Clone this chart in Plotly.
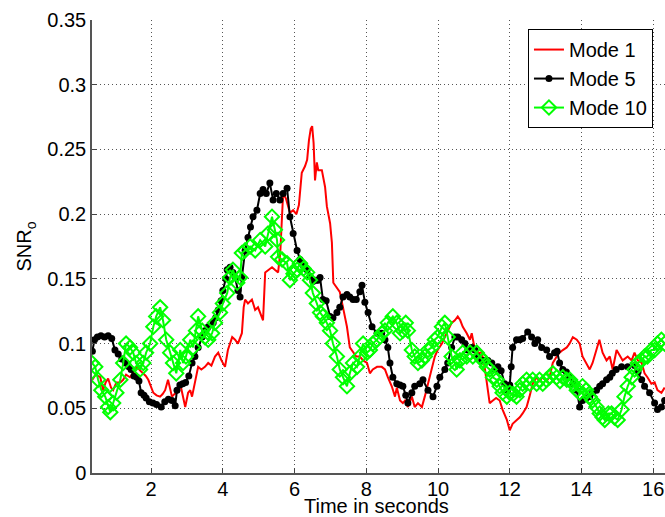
import plotly.graph_objects as go

# ---- Mode 1 (red line) ----
t_mode1 = [0.36,0.45,0.58,0.66,0.73,0.80,0.88,0.94,1.03,1.14,1.22,1.30,1.41,1.50,1.61,1.70,1.78,1.85,1.92,2.00,
           2.06,2.15,2.25,2.32,2.39,2.47,2.52,2.58,2.65,2.72,2.81,2.88,2.95,3.03,3.09,3.14,3.23,3.31,3.40,3.50,
           3.59,3.68,3.78,3.87,3.96,4.06,4.14,4.26,4.34,4.42,4.53,4.58,4.62,4.70,4.81,4.90,4.98,5.09,5.12,5.18,
           5.26,5.37,5.45,5.54,5.60,5.68,5.76,5.87,5.96,6.05,6.12,6.20,6.29,6.35,6.40,6.45,6.49,6.53,6.57,6.62,
           6.66,6.76,6.85,6.90,6.99,7.04,7.08,7.18,7.26,7.35,7.46,7.54,7.63,7.72,7.82,7.91,8.02,8.10,8.18,8.30,
           8.43,8.52,8.60,8.71,8.80,8.85,8.94,9.02,9.08,9.16,9.27,9.35,9.44,9.55,9.63,9.72,9.83,9.91,9.99,10.11,
           10.19,10.27,10.38,10.47,10.55,10.62,10.69,10.80,10.89,10.94,11.03,11.12,11.22,11.30,11.36,11.44,11.53,11.62,11.72,11.80,
           11.92,12.00,12.08,12.19,12.28,12.36,12.47,12.55,12.64,12.75,12.83,12.92,13.02,13.11,13.17,13.20,13.31,13.39,13.48,13.59,
           13.67,13.76,13.87,13.95,14.03,14.14,14.23,14.31,14.42,14.50,14.59,14.70,14.79,14.87,14.98,15.07,15.15,15.29,15.40,15.48,
           15.57,15.68,15.76,15.84,15.95,16.04,16.12,16.23,16.32]
snr_mode1 = [0.072,0.076,0.074,0.064,0.070,0.073,0.066,0.064,0.070,0.070,0.072,0.076,0.074,0.078,0.082,0.079,0.077,0.075,0.072,0.066,
             0.062,0.060,0.059,0.061,0.064,0.072,0.066,0.059,0.061,0.062,0.069,0.060,0.051,0.062,0.064,0.059,0.072,0.082,0.080,0.082,
             0.085,0.083,0.090,0.093,0.087,0.082,0.095,0.105,0.103,0.100,0.108,0.128,0.134,0.131,0.134,0.126,0.128,0.121,0.118,0.155,
             0.157,0.159,0.157,0.155,0.170,0.216,0.212,0.201,0.203,0.200,0.207,0.232,0.237,0.242,0.257,0.266,0.268,0.255,0.226,0.240,
             0.234,0.234,0.221,0.206,0.193,0.178,0.147,0.143,0.140,0.128,0.113,0.097,0.093,0.090,0.090,0.087,0.085,0.077,0.080,0.082,
             0.082,0.080,0.074,0.067,0.059,0.066,0.056,0.054,0.056,0.051,0.059,0.051,0.054,0.051,0.059,0.069,0.082,0.090,0.095,0.100,
             0.105,0.110,0.116,0.118,0.121,0.118,0.113,0.108,0.103,0.108,0.095,0.093,0.093,0.082,0.069,0.054,0.056,0.058,0.056,0.049,
             0.041,0.033,0.038,0.041,0.043,0.046,0.051,0.059,0.069,0.074,0.071,0.074,0.071,0.074,0.080,0.085,0.090,0.093,0.095,0.097,
             0.100,0.105,0.103,0.100,0.090,0.085,0.080,0.085,0.095,0.103,0.093,0.087,0.090,0.080,0.095,0.091,0.087,0.090,0.087,0.093,
             0.087,0.085,0.077,0.074,0.069,0.070,0.064,0.062,0.066]

# ---- Mode 5 (black line with dots) ----
t_mode5 = [0.36,0.42,0.50,0.60,0.70,0.80,0.90,0.99,1.08,1.18,1.28,1.38,1.44,1.52,1.60,1.66,1.72,1.80,1.86,1.95,
           2.05,2.15,2.28,2.38,2.48,2.58,2.67,2.72,2.80,2.88,2.96,3.05,3.14,3.22,3.31,3.42,3.50,3.59,3.73,3.80,
           3.87,3.95,4.00,4.08,4.12,4.20,4.28,4.34,4.42,4.48,4.53,4.62,4.70,4.77,4.84,4.95,5.04,5.12,5.21,5.31,
           5.40,5.49,5.59,5.68,5.79,5.87,5.96,6.07,6.15,6.25,6.35,6.43,6.51,6.60,6.65,6.71,6.79,6.88,6.99,7.07,
           7.18,7.26,7.35,7.46,7.54,7.63,7.72,7.82,7.88,7.96,8.05,8.16,8.30,8.43,8.52,8.60,8.66,8.74,8.85,8.94,
           9.02,9.10,9.16,9.27,9.35,9.49,9.58,9.72,9.86,9.97,10.05,10.19,10.27,10.38,10.47,10.55,10.66,10.75,10.83,10.94,
           11.03,11.11,11.22,11.30,11.39,11.50,11.58,11.67,11.76,11.86,11.94,12.00,12.04,12.08,12.19,12.28,12.36,12.50,12.61,12.70,
           12.78,12.89,13.03,13.11,13.25,13.32,13.39,13.48,13.58,13.67,13.76,13.87,13.95,14.03,14.13,14.23,14.31,14.42,14.51,14.59,
           14.70,14.79,14.86,14.97,15.12,15.29,15.48,15.58,15.68,15.76,15.90,16.04,16.12,16.23,16.32]
snr_mode5 = [0.094,0.103,0.105,0.106,0.105,0.106,0.104,0.095,0.092,0.088,0.085,0.082,0.080,0.075,0.074,0.071,0.062,0.060,0.058,0.055,
             0.054,0.053,0.051,0.055,0.057,0.056,0.052,0.064,0.068,0.069,0.070,0.075,0.085,0.090,0.097,0.105,0.110,0.113,0.116,0.120,
             0.126,0.133,0.141,0.150,0.157,0.159,0.155,0.151,0.141,0.136,0.151,0.172,0.182,0.190,0.198,0.203,0.216,0.219,0.216,0.224,
             0.211,0.216,0.211,0.216,0.220,0.198,0.185,0.172,0.165,0.160,0.157,0.152,0.148,0.149,0.149,0.151,0.134,0.133,0.121,0.120,
             0.124,0.128,0.136,0.138,0.136,0.134,0.134,0.140,0.145,0.132,0.124,0.113,0.108,0.108,0.103,0.097,0.085,0.074,0.069,0.068,
             0.067,0.060,0.054,0.062,0.067,0.069,0.072,0.064,0.059,0.067,0.074,0.080,0.085,0.097,0.105,0.105,0.103,0.100,0.095,0.097,
             0.095,0.090,0.087,0.087,0.087,0.085,0.080,0.082,0.079,0.069,0.064,0.068,0.082,0.097,0.103,0.103,0.104,0.109,0.105,0.100,
             0.103,0.097,0.095,0.090,0.093,0.094,0.085,0.080,0.078,0.074,0.069,0.064,0.051,0.056,0.058,0.059,0.062,0.064,0.067,0.069,
             0.072,0.074,0.077,0.080,0.082,0.082,0.083,0.078,0.072,0.067,0.062,0.054,0.049,0.051,0.056]

# ---- Mode 10 (green line with open diamonds) ----
t_mode10 = [0.35,0.44,0.52,0.61,0.72,0.80,0.86,0.94,1.03,1.14,1.22,1.30,1.41,1.50,1.58,1.69,1.78,1.86,1.97,2.06,
            2.14,2.25,2.33,2.42,2.53,2.61,2.70,2.81,2.89,2.97,3.09,3.17,3.25,3.31,3.42,3.50,3.59,3.70,3.78,3.92,
            4.00,4.12,4.20,4.28,4.40,4.48,4.53,4.62,4.76,4.90,5.04,5.18,5.26,5.37,5.45,5.51,5.54,5.65,5.79,5.87,
            5.97,6.07,6.15,6.25,6.35,6.43,6.51,6.62,6.71,6.79,6.90,6.99,7.07,7.18,7.26,7.35,7.46,7.54,7.63,7.74,
            7.82,7.91,8.02,8.10,8.18,8.30,8.43,8.52,8.60,8.74,8.85,8.94,9.02,9.10,9.16,9.27,9.35,9.44,9.55,9.63,
            9.72,9.83,9.91,9.99,10.11,10.19,10.27,10.38,10.47,10.52,10.61,10.69,10.80,10.89,10.97,11.08,11.16,11.25,11.36,11.44,
            11.53,11.64,11.72,11.80,11.92,12.00,12.10,12.19,12.28,12.36,12.47,12.56,12.64,12.75,12.83,12.92,13.02,13.11,13.20,13.31,
            13.40,13.48,13.59,13.68,13.76,13.87,13.95,14.03,14.13,14.23,14.31,14.42,14.51,14.59,14.65,14.75,14.84,14.92,15.01,15.12,
            15.20,15.29,15.40,15.48,15.57,15.68,15.76,15.84,15.95,16.04,16.12,16.23,16.32]
snr_mode10 = [0.085,0.082,0.072,0.064,0.059,0.051,0.047,0.054,0.062,0.072,0.085,0.100,0.097,0.093,0.085,0.080,0.085,0.093,0.100,0.113,
              0.121,0.128,0.118,0.103,0.093,0.085,0.077,0.095,0.085,0.090,0.103,0.097,0.110,0.121,0.110,0.105,0.103,0.108,0.116,0.124,
              0.131,0.139,0.151,0.157,0.147,0.151,0.170,0.172,0.175,0.172,0.180,0.175,0.185,0.198,0.188,0.180,0.167,0.165,0.162,0.149,
              0.154,0.157,0.162,0.158,0.155,0.149,0.139,0.131,0.124,0.121,0.116,0.110,0.100,0.090,0.080,0.074,0.067,0.077,0.085,0.082,
              0.090,0.100,0.093,0.095,0.100,0.103,0.108,0.110,0.116,0.121,0.116,0.108,0.110,0.116,0.110,0.095,0.090,0.085,0.087,0.090,
              0.095,0.097,0.103,0.105,0.113,0.116,0.105,0.090,0.085,0.080,0.087,0.093,0.090,0.093,0.090,0.093,0.090,0.087,0.082,0.080,
              0.074,0.072,0.067,0.062,0.059,0.062,0.061,0.059,0.064,0.069,0.072,0.069,0.072,0.069,0.072,0.069,0.072,0.074,0.077,0.074,
              0.071,0.074,0.072,0.072,0.069,0.064,0.062,0.067,0.064,0.059,0.056,0.051,0.046,0.043,0.041,0.046,0.046,0.043,0.041,0.049,
              0.059,0.067,0.074,0.080,0.085,0.087,0.090,0.090,0.095,0.095,0.100,0.103,0.100]

x_ticks = [2, 4, 6, 8, 10, 12, 14, 16]
y_ticks = [0, 0.05, 0.1, 0.15, 0.2, 0.25, 0.3, 0.35]
y_ticklabels = ["0", "0.05", "0.1", "0.15", "0.2", "0.25", "0.3", "0.35"]
x_title = "Time in seconds"
y_title = "SNR<sub>o</sub>"

FONT = "Liberation Sans, Arial, Helvetica, sans-serif"
FS = 20

fig = go.Figure()
fig.add_trace(go.Scatter(x=t_mode1, y=snr_mode1, mode="lines", name="Mode 1",
                         line=dict(color="#ff0000", width=2)))
fig.add_trace(go.Scatter(x=t_mode5, y=snr_mode5, mode="lines+markers", name="Mode 5",
                         line=dict(color="#000000", width=2),
                         marker=dict(symbol="circle", size=7, color="#000000")))
fig.add_trace(go.Scatter(x=t_mode10, y=snr_mode10, mode="lines+markers", name="Mode 10",
                         line=dict(color="#00ff00", width=2),
                         marker=dict(symbol="diamond-open", size=11, color="#00ff00",
                                     line=dict(color="#00ff00", width=2))))

fig.update_layout(
    width=665, height=517,
    margin=dict(l=92, r=0, t=20, b=44),
    paper_bgcolor="white", plot_bgcolor="white",
    font=dict(family=FONT, size=FS, color="black"),
    showlegend=True,
    legend=dict(x=0.979, y=0.98, xanchor="right", yanchor="top",
                bgcolor="white", bordercolor="black", borderwidth=1,
                font=dict(size=FS), tracegroupgap=0, itemwidth=30),
    annotations=[dict(text=x_title, xref="paper", yref="paper", x=0.497, y=-0.0728,
                      xanchor="center", yanchor="middle", showarrow=False,
                      font=dict(size=FS, color="black"))],
)
fig.update_xaxes(range=[0.35, 16.33], tickvals=x_ticks, ticks="inside", ticklen=5,
                 tickcolor="#444", showline=True, linecolor="#555", linewidth=1.5,
                 showgrid=True, gridcolor="#555", griddash="1px,3px", gridwidth=1,
                 zeroline=False, automargin=False, ticklabelstandoff=-3,
                 tickfont=dict(size=FS))
fig.update_yaxes(range=[0, 0.35], tickvals=y_ticks, ticktext=y_ticklabels,
                 ticks="inside", ticklen=5, tickcolor="#444",
                 showline=True, linecolor="#555", linewidth=1.5,
                 showgrid=True, gridcolor="#555", griddash="1px,3px", gridwidth=1,
                 zeroline=False, automargin=False, tickfont=dict(size=FS),
                 title=dict(text=y_title, standoff=10, font=dict(size=FS)))

fig.write_html("out.html")
